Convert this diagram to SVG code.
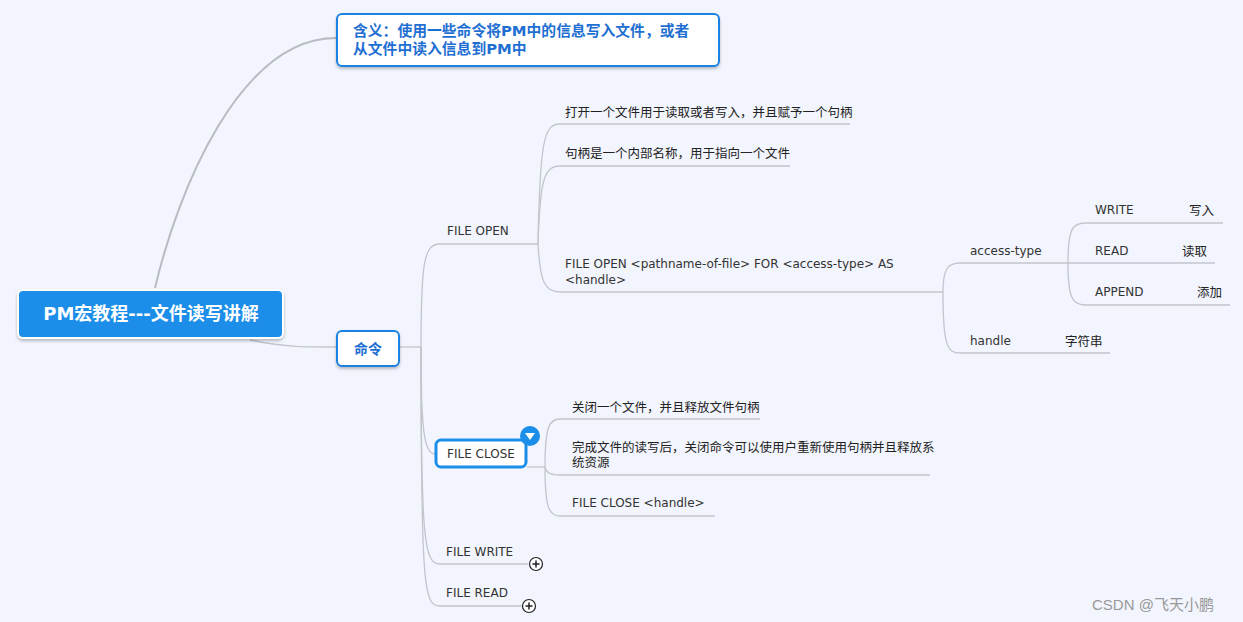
<svg xmlns="http://www.w3.org/2000/svg" width="1243" height="622" viewBox="0 0 1243 622">
<defs>
<filter id="sh" x="-10%" y="-20%" width="120%" height="150%">
<feDropShadow dx="0" dy="2" stdDeviation="1.5" flood-color="#000" flood-opacity="0.25"/>
</filter>
</defs>
<style>
.bg{fill:#f2f5fd}
.ln{fill:none;stroke:#c2c5cc;stroke-width:1.3}
.t{font-family:"DejaVu Sans","Noto Sans CJK SC",sans-serif;font-size:12px;fill:#333}
.c{font-family:"DejaVu Sans","Noto Sans CJK SC",sans-serif;font-size:12.5px;fill:#222}
.nb{font-family:"DejaVu Sans","Noto Sans CJK SC",sans-serif;font-weight:bold;fill:#1f6fd2}
.box{fill:#fff;stroke:#1a82e2;stroke-width:2}
</style>
<rect class="bg" x="0" y="0" width="1243" height="622"/>
<g id="connectors">
<path d="M155,288 C178,190 240,38 336,38" fill="none" stroke="#b8bbc2" stroke-width="2"/>
<path d="M250,340 C285,347 300,347 336,347" class="ln"/>
<path d="M400,347 H421" class="ln"/>
<path d="M421,347 C421,262 424,244 440,244 H538" class="ln"/>
<path d="M421,347 C421,430 424,454 435,454" class="ln"/>
<path d="M421,347 C421,540 424,564 440,564 H528" class="ln"/>
<path d="M421,347 C421,590 424,606 440,606 H522" class="ln"/>
<path d="M538,244 C540,140 544,124 560,124 H850" class="ln"/>
<path d="M538,244 C540,180 544,166 560,166 H790" class="ln"/>
<path d="M538,244 C540,280 544,292 560,292 H943" class="ln"/>
<path d="M943,292 C943,270 947,263 960,263 H1068" class="ln"/>
<path d="M943,292 C943,345 947,353 960,353 H1110" class="ln"/>
<path d="M1068,263 C1068,230 1072,223 1085,223 H1223" class="ln"/>
<path d="M1068,263 H1215" class="ln"/>
<path d="M1068,263 C1068,297 1072,305 1085,305 H1230" class="ln"/>
<path d="M527,467 H545" class="ln"/>
<path d="M545,467 C545,427 549,419 560,419 H760" class="ln"/>
<path d="M545,467 C546,472 549,475 560,475 H930" class="ln"/>
<path d="M545,467 C545,508 549,516 560,516 H715" class="ln"/>
</g>
<g id="root">
<rect x="18" y="290" width="265" height="48" rx="5" fill="#1a8ee9" stroke="#fff" stroke-width="2" filter="url(#sh)"/>
<text x="151" y="320" text-anchor="middle" font-family="DejaVu Sans,'Noto Sans CJK SC',sans-serif" font-weight="bold" font-size="18" fill="#fff">PM宏教程---文件读写讲解</text>
</g>
<g id="note">
<rect class="box" x="337" y="14" width="382" height="52" rx="5" filter="url(#sh)"/>
<text class="nb" x="353" y="36" font-size="14.8">含义：使用一些命令将PM中的信息写入文件，或者</text>
<text class="nb" x="353" y="54" font-size="14.8">从文件中读入信息到PM中</text>
</g>
<g id="cmd">
<rect class="box" x="337" y="331" width="62" height="35" rx="5" filter="url(#sh)"/>
<text class="nb" x="368" y="354" font-size="14" text-anchor="middle">命令</text>
</g>
<g id="fileopen"><text class="t" x="447" y="235">FILE OPEN</text></g>
<g id="open1"><text class="c" x="565" y="117">打开一个文件用于读取或者写入，并且赋予一个句柄</text></g>
<g id="open2"><text class="c" x="565" y="158">句柄是一个内部名称，用于指向一个文件</text></g>
<g id="open3"><text class="t" x="565" y="268">FILE OPEN &lt;pathname-of-file&gt; FOR &lt;access-type&gt; AS</text><text class="t" x="565" y="284">&lt;handle&gt;</text></g>
<g id="accesstype"><text class="t" x="970" y="255">access-type</text></g>
<g id="handle"><text class="t" x="970" y="345">handle</text><text class="c" x="1065" y="346">字符串</text></g>
<g id="write"><text class="t" x="1095" y="214">WRITE</text><text class="c" x="1189" y="215">写入</text></g>
<g id="read"><text class="t" x="1095" y="255">READ</text><text class="c" x="1182" y="256">读取</text></g>
<g id="append"><text class="t" x="1095" y="296">APPEND</text><text class="c" x="1197" y="297">添加</text></g>
<g id="fileclose">
<rect x="436" y="440" width="90" height="27" rx="5" fill="#fff" stroke="#1a8ee9" stroke-width="3"/>
<text class="t" x="481" y="458" text-anchor="middle">FILE CLOSE</text>
<circle cx="530" cy="436" r="10" fill="#1a8ee9"/>
<path d="M525,433 H535 L530,440 Z" fill="#fff"/>
</g>
<g id="close1"><text class="c" x="572" y="412">关闭一个文件，并且释放文件句柄</text></g>
<g id="close2"><text class="c" x="572" y="452">完成文件的读写后，关闭命令可以使用户重新使用句柄并且释放系</text><text class="c" x="572" y="467">统资源</text></g>
<g id="close3"><text class="t" x="572" y="507">FILE CLOSE &lt;handle&gt;</text></g>
<g id="filewrite">
<text class="t" x="446" y="556">FILE WRITE</text>
<circle cx="536" cy="564" r="6.5" fill="#fff" stroke="#222" stroke-width="1.2"/>
<path d="M532.5,564 H539.5 M536,560.5 V567.5" stroke="#222" stroke-width="1.5"/>
</g>
<g id="fileread">
<text class="t" x="446" y="597">FILE READ</text>
<circle cx="529" cy="606" r="6.5" fill="#fff" stroke="#222" stroke-width="1.2"/>
<path d="M525.5,606 H532.5 M529,602.5 V609.5" stroke="#222" stroke-width="1.5"/>
</g>
<text x="1092" y="610" font-family="'Liberation Sans','Noto Sans CJK SC',sans-serif" font-size="15" fill="#999">CSDN @飞天小鹏</text>
</svg>
